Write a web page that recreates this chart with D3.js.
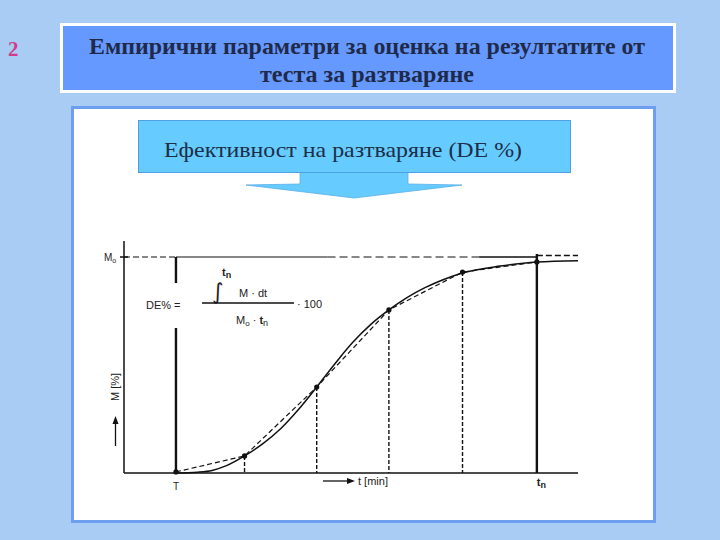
<!DOCTYPE html>
<html>
<head>
<meta charset="utf-8">
<script src="https://cdn.jsdelivr.net/npm/d3@7"></script>
<style>
  html, body { margin: 0; padding: 0; background: #a8ccf3; }
  svg { display: block; }
</style>
</head>
<body>
<script>
// ---------- data ----------
const slideNumber = "2";
const titleLines = ["Емпирични параметри за оценка на резултатите от", "теста за разтваряне"];
const boxLabel = "Ефективност на разтваряне (DE %)";

// sampling times (relative units, t = 0 ... tn) and measured dissolved amount M [%]
const sampleT = [0, 0.95, 1.95, 2.95, 3.97, 5];
const sampleM = [0.5, 7.9, 39.8, 75.5, 93.0, 97.7];

// smooth dissolution curve M(t) [%]
const curveT = [0, 0.3, 0.5, 0.7, 0.95, 1.2, 1.45, 1.7, 1.95, 2.2, 2.45, 2.7, 2.95, 3.2, 3.45, 3.7, 3.97, 4.49, 5.0, 5.57];
const curveM = [0, 0.4, 1.2, 3.4, 7.9, 13.5, 20.5, 29.5, 39.8, 50.5, 60.5, 68.8, 75.5, 81.2, 85.8, 89.5, 92.6, 95.8, 97.7, 98.3];

const tDomain = [-0.72, 5.57];   // axis extent in t
const mDomain = [0, 100];        // M0 = 100 %
const m0Value = 100;
const tn = 5;

// ---------- svg ----------
const W = 720, H = 540;
const svg = d3.select("body").append("svg").attr("width", W).attr("height", H);

svg.append("rect").attr("width", W).attr("height", H).attr("fill", "#a8ccf3");

// slide number
svg.append("text").attr("x", 8).attr("y", 56)
  .attr("font-family", "Liberation Serif, serif").attr("font-weight", "bold")
  .attr("font-size", 21).attr("fill", "#d23c8c").text(slideNumber);

// title box
svg.append("rect").attr("x", 61.5).attr("y", 24.5).attr("width", 613).attr("height", 67)
  .attr("fill", "#6699ff").attr("stroke", "#ffffff").attr("stroke-width", 3);
const titleW = [556, 214];
titleLines.forEach((s, i) => {
  svg.append("text").attr("x", 367).attr("y", 54 + i * 28)
    .attr("text-anchor", "middle")
    .attr("font-family", "Liberation Serif, serif").attr("font-weight", "bold")
    .attr("font-size", 24).attr("fill", "#1e2a48")
    .attr("textLength", titleW[i]).attr("lengthAdjust", "spacingAndGlyphs")
    .text(s);
});

// content frame
svg.append("rect").attr("x", 72.5).attr("y", 107.5).attr("width", 582).attr("height", 414)
  .attr("fill", "#ffffff").attr("stroke", "#6e9ef0").attr("stroke-width", 3);

// cyan callout box with arrow
svg.append("path")
  .attr("d", "M300,172 L300,184 L246,185 L354,198 L462,185 L408,184 L408,172 Z")
  .attr("fill", "#66ccff").attr("stroke", "#5aaeea").attr("stroke-width", 0.8);
svg.append("rect").attr("x", 138.5).attr("y", 120.5).attr("width", 432).attr("height", 52)
  .attr("fill", "#66ccff").attr("stroke", "#4f9fe6").attr("stroke-width", 1);
svg.append("text").attr("x", 164).attr("y", 157)
  .attr("font-family", "Liberation Serif, serif").attr("font-size", 22)
  .attr("fill", "#1c2e48").attr("textLength", 358).attr("lengthAdjust", "spacingAndGlyphs")
  .text(boxLabel);

// ---------- chart ----------
const x = d3.scaleLinear().domain(tDomain).range([124, 578]);
const y = d3.scaleLinear().domain(mDomain).range([473, 257]);
const ink = "#111";
const g = svg.append("g");

// axes
g.append("line").attr("x1", x(tDomain[0])).attr("x2", x(tDomain[0]))
  .attr("y1", y(0)).attr("y2", 241).attr("stroke", ink).attr("stroke-width", 1.5);
g.append("line").attr("x1", x(tDomain[0])).attr("x2", x(tDomain[1]))
  .attr("y1", y(0)).attr("y2", y(0)).attr("stroke", ink).attr("stroke-width", 1.5);
// M0 tick
g.append("line").attr("x1", x(tDomain[0]) - 4).attr("x2", x(tDomain[0]) + 4)
  .attr("y1", y(m0Value)).attr("y2", y(m0Value)).attr("stroke", ink).attr("stroke-width", 1.5);

// M0 reference line (dashed with solid parts as in the scan)
g.append("line").attr("x1", x(tDomain[0])).attr("x2", x(0))
  .attr("y1", y(m0Value)).attr("y2", y(m0Value)).attr("stroke", ink).attr("stroke-width", 1.2)
  .attr("stroke-dasharray", "6,3");
g.append("line").attr("x1", x(0)).attr("x2", x(2.1))
  .attr("y1", y(m0Value)).attr("y2", y(m0Value)).attr("stroke", ink).attr("stroke-width", 1.2);
g.append("line").attr("x1", x(2.1)).attr("x2", x(4.2))
  .attr("y1", y(m0Value)).attr("y2", y(m0Value)).attr("stroke", ink).attr("stroke-width", 1.2)
  .attr("stroke-dasharray", "8,4");
g.append("line").attr("x1", x(4.2)).attr("x2", x(tn))
  .attr("y1", y(m0Value)).attr("y2", y(m0Value)).attr("stroke", ink).attr("stroke-width", 1.4);
g.append("line").attr("x1", x(tn)).attr("x2", x(tDomain[1]))
  .attr("y1", y(m0Value) - 1.5).attr("y2", y(m0Value) - 1.5).attr("stroke", ink).attr("stroke-width", 1.3)
  .attr("stroke-dasharray", "6,3");

// thick vertical at t = 0 (gap for formula)
g.append("line").attr("x1", x(0)).attr("x2", x(0)).attr("y1", y(m0Value)).attr("y2", 283)
  .attr("stroke", ink).attr("stroke-width", 2.4);
g.append("line").attr("x1", x(0)).attr("x2", x(0)).attr("y1", 328).attr("y2", y(0))
  .attr("stroke", ink).attr("stroke-width", 2.4);
// thick vertical at tn
g.append("line").attr("x1", x(tn)).attr("x2", x(tn)).attr("y1", y(m0Value) - 3).attr("y2", y(0))
  .attr("stroke", ink).attr("stroke-width", 2.4);

// dashed drop lines at intermediate samples
const samples = sampleT.map((t, i) => ({ t, m: sampleM[i] }));
g.selectAll(".drop").data(samples.slice(1, -1)).enter().append("line")
  .attr("x1", d => x(d.t)).attr("x2", d => x(d.t))
  .attr("y1", d => y(d.m)).attr("y2", y(0))
  .attr("stroke", ink).attr("stroke-width", 1.4).attr("stroke-dasharray", "4,2");

// dashed polyline through samples
g.append("path").datum(samples)
  .attr("d", d3.line().x(d => x(d.t)).y(d => y(d.m)))
  .attr("fill", "none").attr("stroke", ink).attr("stroke-width", 1.2).attr("stroke-dasharray", "5,3");

// smooth curve
const curve = curveT.map((t, i) => ({ t, m: curveM[i] }));
g.append("path").datum(curve)
  .attr("d", d3.line().curve(d3.curveMonotoneX).x(d => x(d.t)).y(d => y(d.m)))
  .attr("fill", "none").attr("stroke", ink).attr("stroke-width", 1.5);

// sample dots
g.selectAll(".dot").data(samples).enter().append("circle")
  .attr("cx", d => x(d.t)).attr("cy", d => y(d.m)).attr("r", 2.6).attr("fill", ink);

// labels
const sans = "Liberation Sans, Arial, sans-serif";
const lab = (tx, ty, s, size, anchor) => g.append("text").attr("x", tx).attr("y", ty)
  .attr("font-family", sans).attr("font-size", size || 11).attr("fill", "#222")
  .attr("text-anchor", anchor || "start").text(s);

// M0 label
const m0 = g.append("text").attr("x", 104).attr("y", y(m0Value) + 4)
  .attr("font-family", sans).attr("font-size", 10).attr("fill", "#222");
m0.append("tspan").text("M");
m0.append("tspan").attr("font-size", 7).attr("dy", 2).text("o");

// y-axis label (rotated) with arrow
g.append("text").attr("transform", "translate(119,387) rotate(-90)")
  .attr("text-anchor", "middle").attr("font-family", sans).attr("font-size", 11)
  .attr("fill", "#222").text("M [%]");
g.append("line").attr("x1", 115.5).attr("x2", 115.5).attr("y1", 446).attr("y2", 421)
  .attr("stroke", ink).attr("stroke-width", 1.3);
g.append("path").attr("d", "M112.5,424 L115.5,416 L118.5,424 Z").attr("fill", ink);

// x-axis label with arrow
g.append("line").attr("x1", 323).attr("x2", 350).attr("y1", 481).attr("y2", 481)
  .attr("stroke", ink).attr("stroke-width", 1.3);
g.append("path").attr("d", "M347,478 L355,481 L347,484 Z").attr("fill", ink);
lab(358, 485, "t [min]", 11);

// origin mark and tn label
lab(x(0), 490, "T", 10, "middle");
const tnl = g.append("text").attr("x", x(tn)).attr("y", 486)
  .attr("font-family", sans).attr("font-size", 11).attr("font-weight", "bold").attr("fill", "#222");
tnl.append("tspan").text("t");
tnl.append("tspan").attr("font-size", 9).attr("dy", 2).text("n");

// formula
const f1 = g.append("text").attr("x", 222).attr("y", 276)
  .attr("font-family", sans).attr("font-size", 11).attr("font-weight", "bold").attr("fill", "#222");
f1.append("tspan").text("t");
f1.append("tspan").attr("font-size", 9).attr("dy", 2).text("n");
g.append("text").attr("x", 212).attr("y", 299).attr("font-family", "DejaVu Sans, sans-serif")
  .attr("font-size", 22).attr("fill", "#222").text("∫");
lab(239, 297, "M  ·  dt", 11);
lab(146, 309, "DE%  =", 11);
g.append("line").attr("x1", 202).attr("x2", 294).attr("y1", 303).attr("y2", 303)
  .attr("stroke", ink).attr("stroke-width", 1.3);
lab(297, 308, "· 100", 11);
const f2 = g.append("text").attr("x", 236).attr("y", 324)
  .attr("font-family", sans).attr("font-size", 11).attr("fill", "#222");
f2.append("tspan").text("M");
f2.append("tspan").attr("font-size", 8).attr("dy", 2).text("o");
f2.append("tspan").attr("dy", -2).text("  ·  ");
f2.append("tspan").attr("font-weight", "bold").text("t");
f2.append("tspan").attr("font-size", 9).attr("dy", 2).text("n");
</script>
</body>
</html>
